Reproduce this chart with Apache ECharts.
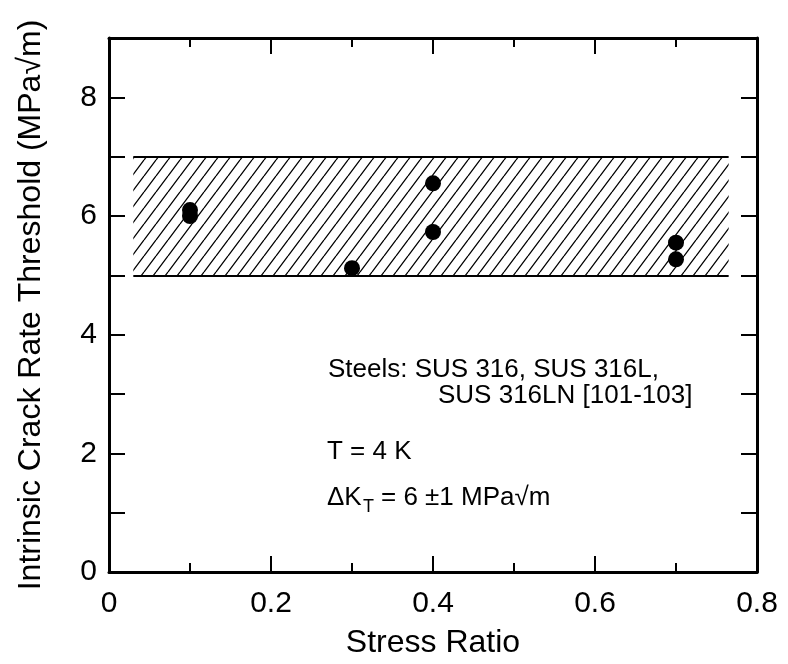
<!DOCTYPE html>
<html>
<head>
<meta charset="utf-8">
<script src="https://cdn.jsdelivr.net/npm/echarts@6/dist/echarts.min.js"></script>
<style>
html,body{margin:0;padding:0;background:#fff;}
#chart{width:788px;height:664px;}
</style>
</head>
<body>
<div id="chart"></div>
<script>
// ---- data ----
const stressRatio = [0.1, 0.1, 0.3, 0.4, 0.4, 0.7, 0.7];
const threshold   = [6.1, 6.0, 5.12, 6.55, 5.73, 5.55, 5.27];
const bandRatio   = [0.03, 0.765];   // x extent of scatter band
const bandRange   = [5, 7];          // 6 ± 1 MPa√m
const xTicks = [0, 0.2, 0.4, 0.6, 0.8];
const yTicks = [0, 2, 4, 6, 8];

const FONT = 'Liberation Sans, Arial, Helvetica, sans-serif';

// hatch pattern (diagonal "/")
const pat = document.createElement('canvas');
const pw = 12, ph = 16;
pat.width = pw; pat.height = ph;
const ctx = pat.getContext('2d');
ctx.strokeStyle = '#000';
ctx.lineWidth = 1.3;
ctx.beginPath();
[-pw, 0, pw].forEach(function (o) {
  ctx.moveTo(o, ph); ctx.lineTo(o + pw, 0);
});
ctx.stroke();

const chart = echarts.init(document.getElementById('chart'), null, {renderer: 'canvas'});

const axisLine = {show: true, onZero: false, lineStyle: {color: '#000', width: 3}};

function xAxisCfg(pos, labels) {
  return {
    type: 'value', position: pos, min: 0, max: 0.8, interval: 0.2,
    axisLine: axisLine,
    axisTick: {show: true, inside: true, length: 16, lineStyle: {color: '#000', width: 2}},
    minorTick: {show: true, splitNumber: 2, length: 9, lineStyle: {color: '#000', width: 2}},
    splitLine: {show: false}, minorSplitLine: {show: false},
    axisLabel: {
      show: labels, color: '#000', fontSize: 30, fontFamily: FONT, margin: 17,
      formatter: function (v) { return xTicks.indexOf(+v.toFixed(2)) >= 0 ? String(+v.toFixed(2)) : ''; }
    },
    name: labels ? 'Stress Ratio' : '', nameLocation: 'middle', nameGap: 55,
    nameTextStyle: {color: '#000', fontSize: 32, fontFamily: FONT}
  };
}
function yAxisCfg(pos, labels) {
  return {
    type: 'value', position: pos, min: 0, max: 9, interval: 1,
    axisLine: axisLine,
    axisTick: {show: true, inside: true, length: 16, lineStyle: {color: '#000', width: 2}},
    splitLine: {show: false},
    axisLabel: {
      show: labels, color: '#000', fontSize: 30, fontFamily: FONT, margin: 12,
      formatter: function (v) { return yTicks.indexOf(v) >= 0 ? String(v) : ''; }
    },
    name: labels ? 'Intrinsic Crack Rate Threshold (MPa√m)' : '',
    nameLocation: 'middle', nameGap: 62, nameRotate: 90,
    nameTextStyle: {color: '#000', fontSize: 32, fontFamily: FONT}
  };
}

const txt = function (x, y, s, size) {
  return {type: 'text', x: x, y: y, silent: true,
    style: {text: s, fill: '#000', fontSize: size || 26, fontFamily: FONT, verticalAlign: 'middle', align: 'left'}};
};

chart.setOption({
  backgroundColor: '#fff',
  animation: false,
  grid: {left: 109, right: 31, top: 38, bottom: 90, containLabel: false},
  xAxis: [xAxisCfg('bottom', true), xAxisCfg('top', false)],
  yAxis: [yAxisCfg('left', true), yAxisCfg('right', false)],
  series: [{
    type: 'scatter',
    xAxisIndex: 0, yAxisIndex: 0,
    symbol: 'circle', symbolSize: 16,
    itemStyle: {color: '#000', opacity: 1},
    z: 5,
    data: stressRatio.map(function (x, i) { return [x, threshold[i]]; }),
    markArea: {
      silent: true,
      itemStyle: {color: {image: pat, repeat: 'repeat'}, borderWidth: 0},
      data: [[{xAxis: bandRatio[0], yAxis: bandRange[0]}, {xAxis: bandRatio[1], yAxis: bandRange[1]}]]
    },
    markLine: {
      silent: true, symbol: 'none', label: {show: false},
      lineStyle: {color: '#000', width: 2, type: 'solid'},
      data: bandRange.map(function (y) {
        return [{coord: [bandRatio[0], y]}, {coord: [bandRatio[1], y]}];
      })
    }
  }],
  graphic: [
    txt(328, 370, 'Steels: SUS 316, SUS 316L,'),
    txt(438, 396, 'SUS 316LN [101-103]'),
    txt(327, 452, 'T = 4 K'),
    txt(327, 498, 'ΔK'),
    txt(363, 507, 'T', 18),
    txt(381, 498, '= 6 ±1 MPa√m')
  ]
});
</script>
</body>
</html>
